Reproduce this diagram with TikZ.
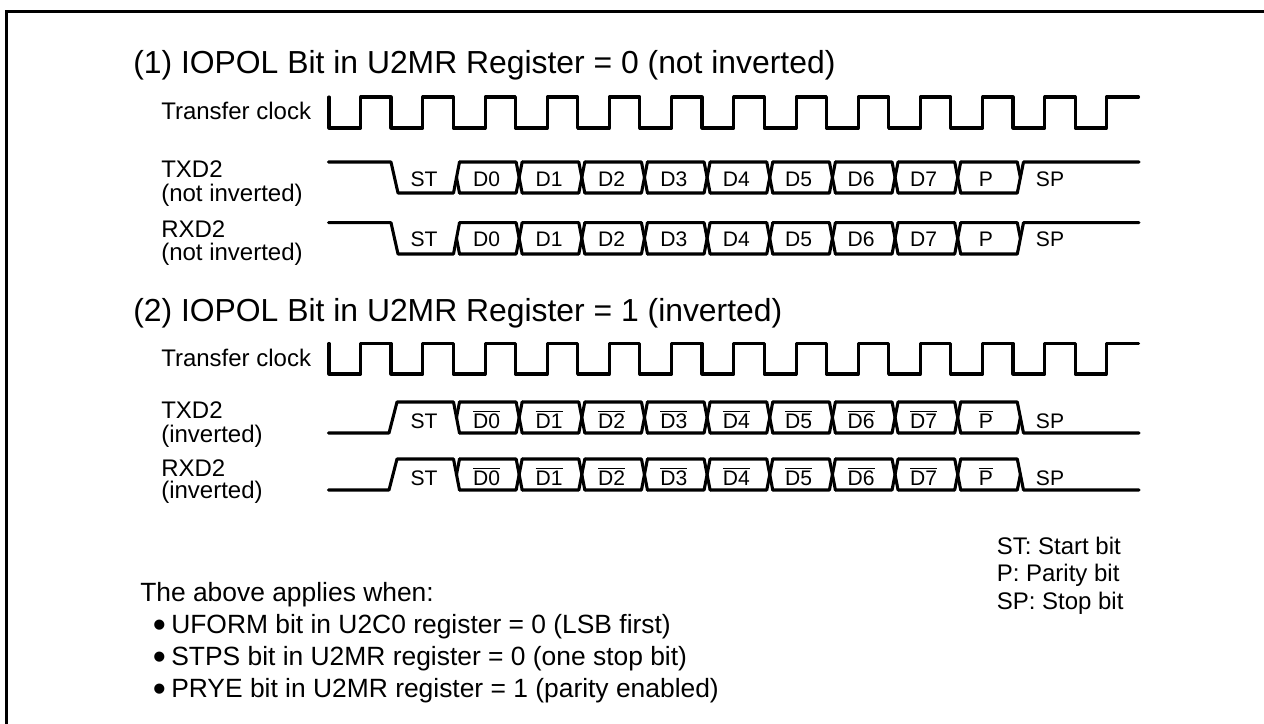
\documentclass[tikz,border=0pt]{standalone}
\usepackage{fontspec}
\setmainfont{Liberation Sans}
\newcommand{\ovl}[1]{\leavevmode\vbox{\hrule height 0.75pt \kern 1.1pt\hbox{#1}}}
\newcommand{\bigdot}{\makebox[6.9pt][c]{\smash{\raisebox{-2.8pt}{\fontsize{28}{28}\selectfont •}}}}
\newcommand{\clockwave}[2]{%
  \draw[wave] (329,#1) -- (329,#2) -- (360.7,#2) -- (360.7,#1) -- (391,#1) -- (391,#2)
  \foreach \k in {1,...,11} {
    -- ({360.7+62.2*\k},#2) -- ({360.7+62.2*\k},#1) -- ({391+62.2*\k},#1) -- ({391+62.2*\k},#2)
  }
  -- (1106.5,#2) -- (1106.5,#1) -- (1138.5,#1);
}
\newcommand{\dataline}[4]{%
  \pgfmathsetmacro{\mymid}{(#1+#2)/2}
  \draw[wave] (328.5,#1) -- (#3,#1) -- (#4,#2) -- (453.5,#2) -- (459.5,#1);
  \draw[wave] (456.5,\mymid) -- (459.5,#2);
  \foreach \k in {1,...,8} {
    \pgfmathsetmacro{\ea}{453.5+62.65*(\k-1)+6}
    \pgfmathsetmacro{\eb}{453.5+62.65*\k}
    \pgfmathsetmacro{\ec}{\eb+6}
    \draw[wave] (\ea,#1) -- (\eb,#1) -- (\ec,#2);
    \draw[wave] (\ea,#2) -- (\eb,#2) -- (\ec,#1);
  }
  \draw[wave] (960.7,#2) -- (1017.3,#2) -- (1023.5,#1) -- (1139,#1);
  \draw[wave] (960.7,#1) -- (1017.3,#1) -- (1020.4,\mymid);
}
\newcommand{\rowtext}[3]{%
  \node[sigtxt] (#1st) at (424,#2) {ST};
  \foreach \i/\lab in {0/D0,1/D1,2/D2,3/D3,4/D4,5/D5,6/D6,7/D7,8/P} {
    \node[sigtxt] (#1\i) at ({486.7+62.4*\i},#2) {#3{\lab}};
  }
  \node[sigtxt] (#1sp) at (1050,#2) {SP};
}
\newcommand{\plaintxt}[1]{#1}
\tikzset{
  px/.style={x=0.75pt,y=-0.75pt},
  wave/.style={line width=2.3pt,line join=round,line cap=round,black},
  frame/.style={line width=2pt,black},
  headtxt/.style={font=\fontsize{23.9}{28}\selectfont,anchor=base west,inner sep=0pt},
  labtxt/.style={font=\fontsize{18}{21}\selectfont,anchor=base west,inner sep=0pt},
  sigtxt/.style={font=\fontsize{15.8}{19}\selectfont,anchor=base,inner sep=0pt},
  notetxt/.style={font=\fontsize{19.8}{24}\selectfont,anchor=base west,inner sep=0pt}
}
\begin{document}
\begin{tikzpicture}[px]
\useasboundingbox (0,0) rectangle (1264,724);
\fill[white] (0,0) rectangle (1264,724);
\draw[frame] (6.4,724) -- (6.4,11.3) -- (1264,11.3);
\node[headtxt] (h1) at (133,73.5) {(1) IOPOL Bit in U2MR Register = 0 (not inverted)};
\node[headtxt] (h2) at (133,321.7) {(2) IOPOL Bit in U2MR Register = 1 (inverted)};
\node[labtxt] (c1) at (161,119) {Transfer clock};
\node[labtxt] (t1a) at (161,177) {TXD2};
\node[labtxt] (t1b) at (161,201.7) {(not inverted)};
\node[labtxt] (r1a) at (161,237) {RXD2};
\node[labtxt] (r1b) at (161,260) {(not inverted)};
\node[labtxt] (c2) at (161,366) {Transfer clock};
\node[labtxt] (t2a) at (161,418) {TXD2};
\node[labtxt] (t2b) at (161,442.7) {(inverted)};
\node[labtxt] (r2a) at (161,476) {RXD2};
\node[labtxt] (r2b) at (161,498) {(inverted)};
\clockwave{97}{128}
\clockwave{343.5}{374}
\dataline{162}{193}{391}{398}
\dataline{222.7}{254}{391}{398}
\dataline{433}{402}{389}{397}
\dataline{490}{459}{389}{397}
\rowtext{a}{186}{\plaintxt}
\rowtext{b}{246.7}{\plaintxt}
\rowtext{c}{428}{\ovl}
\rowtext{d}{485}{\ovl}
\node[labtxt] (l1) at (996.5,554) {ST: Start bit};
\node[labtxt] (l2) at (996.5,581.7) {P: Parity bit};
\node[labtxt] (l3) at (996.5,609.3) {SP: Stop bit};
\node[notetxt] (n0) at (140,601.7) {The above applies when:};
\node[notetxt] (n1) at (154.5,633.3) {\bigdot{} UFORM bit in U2C0 register = 0 (LSB first)};
\node[notetxt] (n2) at (154.5,665.7) {\bigdot{} STPS bit in U2MR register = 0 (one stop bit)};
\node[notetxt] (n3) at (154.5,697.7) {\bigdot{} PRYE bit in U2MR register = 1 (parity enabled)};
\end{tikzpicture}
\end{document}
